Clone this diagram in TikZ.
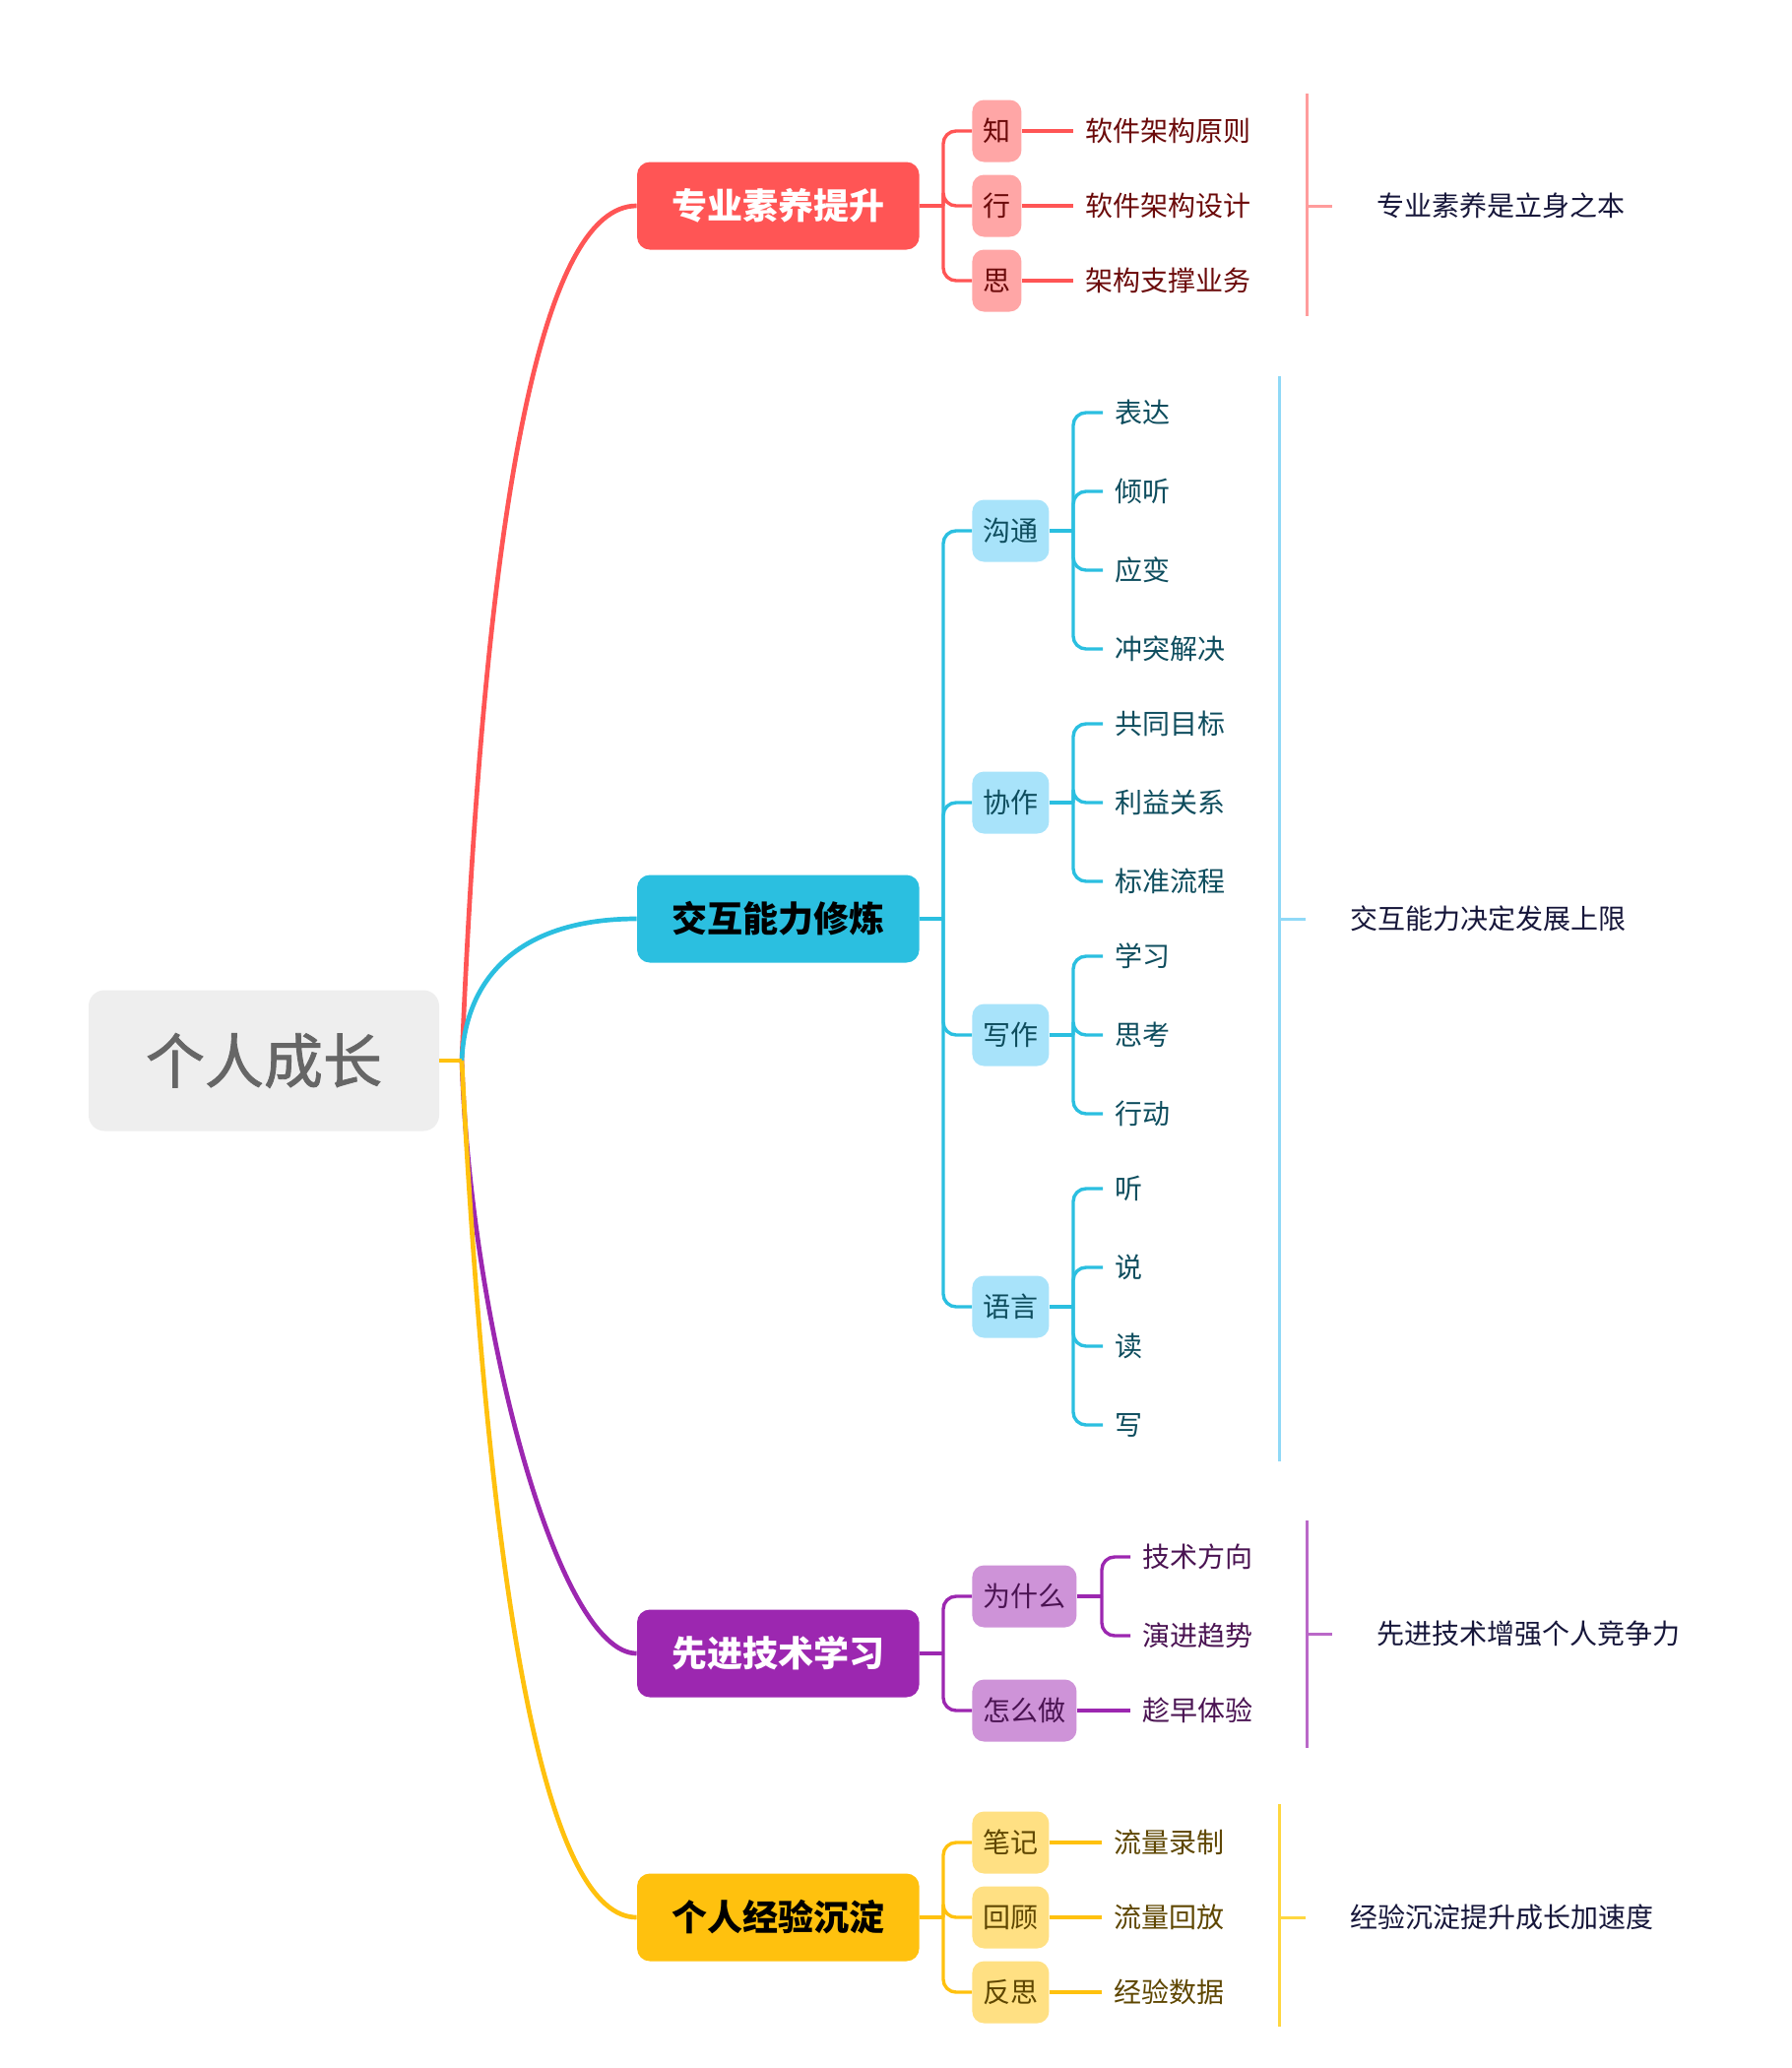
\documentclass[tikz,border=0pt]{standalone}
\usepackage{fontspec}
\setmainfont{Noto Sans CJK SC}
\newfontfamily\rootfont{Noto Sans CJK SC}[FakeBold=1.4]
\definecolor{rootfill}{HTML}{EEEEEE}
\definecolor{roottext}{HTML}{666666}
\definecolor{rMain}{HTML}{FF5555}
\definecolor{rSub}{HTML}{FFA6A6}
\definecolor{rText}{HTML}{6B0A0A}
\definecolor{rSum}{HTML}{FF9C9C}
\definecolor{cMain}{HTML}{2BBFE0}
\definecolor{cSub}{HTML}{A8E3FA}
\definecolor{cText}{HTML}{0E4D5E}
\definecolor{cSum}{HTML}{90D9F7}
\definecolor{pMain}{HTML}{9C27B0}
\definecolor{pSub}{HTML}{CE93D8}
\definecolor{pText}{HTML}{4A1352}
\definecolor{pSum}{HTML}{BA68C8}
\definecolor{yMain}{HTML}{FFC10E}
\definecolor{ySub}{HTML}{FFE083}
\definecolor{yText}{HTML}{5E4600}
\definecolor{ySum}{HTML}{FFD740}
\definecolor{sumText}{HTML}{16163A}
\begin{document}
\begin{tikzpicture}[x=0.5pt,y=-0.5pt,
  rootbox/.style={fill=rootfill, rounded corners=8pt, minimum width=178pt, minimum height=71.5pt, text=roottext, font=\rootfont\fontsize{30}{36}\selectfont, inner sep=0pt},
  mainbox/.style={rounded corners=6.5pt, minimum width=143.3pt, minimum height=44.5pt, font=\fontsize{18}{22}\selectfont\bfseries, inner sep=0pt},
  subbox/.style={rounded corners=6pt, minimum height=31.5pt, inner xsep=5.5pt, inner ysep=0pt, font=\fontsize{14}{17}\selectfont, anchor=west},
  leaf/.style={anchor=west, inner xsep=6pt, inner ysep=0pt, font=\fontsize{14}{17}\selectfont},
  summ/.style={anchor=west, inner xsep=22.5pt, inner ysep=0pt, font=\fontsize{14}{17}\selectfont, text=sumText},
  mainline/.style={line width=2.35pt},
  subline/.style={line width=1.7pt},
  sumline/.style={line width=1.5pt},
]
\useasboundingbox (0,0) rectangle (1820,2100);

% ---------- root ----------
\node[rootbox] (root) at (268,1077) {个人成长};
\coordinate (hub) at (469,1077);

% ---------- main topics ----------
\node[mainbox, fill=rMain, text=white] (m1) at (790.3,209) {专业素养提升};
\node[mainbox, fill=cMain, text=black] (m2) at (790.3,933) {交互能力修炼};
\node[mainbox, fill=pMain, text=white] (m3) at (790.3,1679) {先进技术学习};
\node[mainbox, fill=yMain, text=black] (m4) at (790.3,1947) {个人经验沉淀};

% main curves
\draw[mainline, rMain] (hub) .. controls (492.7,498.3) and (552.1,209) .. (m1.west);
\draw[mainline, cMain] (hub) .. controls (472.6,989.4) and (531.3,933) .. (m2.west);
\draw[mainline, pMain] (hub) .. controls (477.9,1347.9) and (566.9,1679) .. (m3.west);
\draw[mainline, yMain] (hub) .. controls (498.7,1657) and (558,1947) .. (m4.west);
\draw[mainline, yMain] (root.east) -- (hub);

% ---------- branch 1 : red ----------
\node[subbox, fill=rSub, text=rText] (r1) at (987,133) {知};
\node[subbox, fill=rSub, text=rText] (r2) at (987,209) {行};
\node[subbox, fill=rSub, text=rText] (r3) at (987,285) {思};
\coordinate (rj) at (958,209);
\draw[subline, rMain] (m1.east) -- (rj);
\foreach \n in {r1,r2,r3} \draw[subline, rMain, rounded corners=6.5pt] (rj) |- (\n.west);
\node[leaf, text=rText] (r1a) at (1090,133) {软件架构原则};
\node[leaf, text=rText] (r2a) at (1090,209) {软件架构设计};
\node[leaf, text=rText] (r3a) at (1090,285) {架构支撑业务};
\draw[subline, rMain] (r1.east) -- (r1a.west);
\draw[subline, rMain] (r2.east) -- (r2a.west);
\draw[subline, rMain] (r3.east) -- (r3a.west);
\coordinate (rs1) at (1327,95);
\coordinate (rs2) at (1327,321);
\coordinate (rsm) at (1327,209);
\draw[sumline, rSum] (rs1) -- (rs2);
\node[summ] (rsum) at (1353,209) {专业素养是立身之本};
\draw[sumline, rSum] (rsm) -- (rsum.west);

% ---------- branch 2 : cyan ----------
\node[subbox, fill=cSub, text=cText] (c1) at (987,539) {沟通};
\node[subbox, fill=cSub, text=cText] (c2) at (987,815) {协作};
\node[subbox, fill=cSub, text=cText] (c3) at (987,1051) {写作};
\node[subbox, fill=cSub, text=cText] (c4) at (987,1327) {语言};
\coordinate (cj) at (958,933);
\draw[subline, cMain] (m2.east) -- (cj);
\foreach \n in {c1,c2,c3,c4} \draw[subline, cMain, rounded corners=6.5pt] (cj) |- (\n.west);

% 沟通
\node[leaf, text=cText] (c1a) at (1120,419) {表达};
\node[leaf, text=cText] (c1b) at (1120,499) {倾听};
\node[leaf, text=cText] (c1c) at (1120,579) {应变};
\node[leaf, text=cText] (c1d) at (1120,659) {冲突解决};
\coordinate (c1j) at (1090,539);
\draw[subline, cMain] (c1.east) -- (c1j);
\foreach \n in {c1a,c1b,c1c,c1d} \draw[subline, cMain, rounded corners=6.5pt] (c1j) |- (\n.west);
% 协作
\node[leaf, text=cText] (c2a) at (1120,735) {共同目标};
\node[leaf, text=cText] (c2b) at (1120,815) {利益关系};
\node[leaf, text=cText] (c2c) at (1120,895) {标准流程};
\coordinate (c2j) at (1090,815);
\draw[subline, cMain] (c2.east) -- (c2j);
\foreach \n in {c2a,c2b,c2c} \draw[subline, cMain, rounded corners=6.5pt] (c2j) |- (\n.west);
% 写作
\node[leaf, text=cText] (c3a) at (1120,971) {学习};
\node[leaf, text=cText] (c3b) at (1120,1051) {思考};
\node[leaf, text=cText] (c3c) at (1120,1131) {行动};
\coordinate (c3j) at (1090,1051);
\draw[subline, cMain] (c3.east) -- (c3j);
\foreach \n in {c3a,c3b,c3c} \draw[subline, cMain, rounded corners=6.5pt] (c3j) |- (\n.west);
% 语言
\node[leaf, text=cText] (c4a) at (1120,1207) {听};
\node[leaf, text=cText] (c4b) at (1120,1287) {说};
\node[leaf, text=cText] (c4c) at (1120,1367) {读};
\node[leaf, text=cText] (c4d) at (1120,1447) {写};
\coordinate (c4j) at (1090,1327);
\draw[subline, cMain] (c4.east) -- (c4j);
\foreach \n in {c4a,c4b,c4c,c4d} \draw[subline, cMain, rounded corners=6.5pt] (c4j) |- (\n.west);

\coordinate (cs1) at (1299,382);
\coordinate (cs2) at (1299,1484);
\coordinate (csm) at (1299,933);
\draw[sumline, cSum] (cs1) -- (cs2);
\node[summ] (csum) at (1326,933) {交互能力决定发展上限};
\draw[sumline, cSum] (csm) -- (csum.west);

% ---------- branch 3 : purple ----------
\node[subbox, fill=pSub, text=pText] (p1) at (987,1621) {为什么};
\node[subbox, fill=pSub, text=pText] (p2) at (987,1737) {怎么做};
\coordinate (pj) at (958,1679);
\draw[subline, pMain] (m3.east) -- (pj);
\foreach \n in {p1,p2} \draw[subline, pMain, rounded corners=6.5pt] (pj) |- (\n.west);
\node[leaf, text=pText] (p1a) at (1148,1581) {技术方向};
\node[leaf, text=pText] (p1b) at (1148,1661) {演进趋势};
\coordinate (p1j) at (1119,1621);
\draw[subline, pMain] (p1.east) -- (p1j);
\foreach \n in {p1a,p1b} \draw[subline, pMain, rounded corners=6.5pt] (p1j) |- (\n.west);
\node[leaf, text=pText] (p2a) at (1148,1737) {趁早体验};
\draw[subline, pMain] (p2.east) -- (p2a.west);

\coordinate (ps1) at (1327,1544);
\coordinate (ps2) at (1327,1775);
\coordinate (psm) at (1327,1659);
\draw[sumline, pSum] (ps1) -- (ps2);
\node[summ] (psum) at (1353,1659) {先进技术增强个人竞争力};
\draw[sumline, pSum] (psm) -- (psum.west);

% ---------- branch 4 : yellow ----------
\node[subbox, fill=ySub, text=yText] (y1) at (987,1871) {笔记};
\node[subbox, fill=ySub, text=yText] (y2) at (987,1947) {回顾};
\node[subbox, fill=ySub, text=yText] (y3) at (987,2023) {反思};
\coordinate (yj) at (958,1947);
\draw[subline, yMain] (m4.east) -- (yj);
\foreach \n in {y1,y2,y3} \draw[subline, yMain, rounded corners=6.5pt] (yj) |- (\n.west);
\node[leaf, text=yText] (y1a) at (1119,1871) {流量录制};
\node[leaf, text=yText] (y2a) at (1119,1947) {流量回放};
\node[leaf, text=yText] (y3a) at (1119,2023) {经验数据};
\draw[subline, yMain] (y1.east) -- (y1a.west);
\draw[subline, yMain] (y2.east) -- (y2a.west);
\draw[subline, yMain] (y3.east) -- (y3a.west);

\coordinate (ys1) at (1299,1832);
\coordinate (ys2) at (1299,2058);
\coordinate (ysm) at (1299,1947);
\draw[sumline, ySum] (ys1) -- (ys2);
\node[summ] (ysum) at (1326,1947) {经验沉淀提升成长加速度};
\draw[sumline, ySum] (ysm) -- (ysum.west);
\end{tikzpicture}
\end{document}
